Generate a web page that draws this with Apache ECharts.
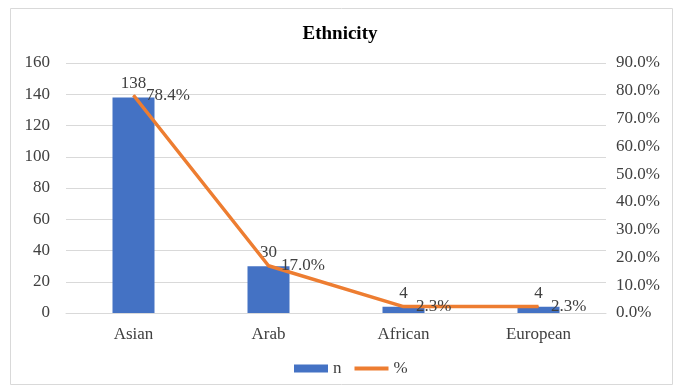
<!DOCTYPE html>
<html>
<head>
<meta charset="utf-8">
<script src="https://cdn.jsdelivr.net/npm/echarts@6/dist/echarts.min.js"></script>
<style>
  html, body { margin: 0; padding: 0; background: #fff; }
  #chart { width: 680px; height: 388px; }
</style>
</head>
<body>
<div id="chart"></div>
<script>
// data
var categories = ["Asian", "Arab", "African", "European"];
var counts = [138, 30, 4, 4];
var percents = [78.4, 17.0, 2.3, 2.3];

var font = "'Liberation Serif', 'Times New Roman', serif";
var textColor = "#404040";

var myChart = echarts.init(document.getElementById("chart"));
var option = {
  textStyle: { fontFamily: font },
  title: {
    text: "Ethnicity",
    left: "center",
    top: 20,
    textStyle: { fontFamily: font, fontSize: 19, fontWeight: "bold", color: "#000" }
  },
  graphic: [
    {
      type: "rect",
      shape: { x: 10.5, y: 8.5, width: 662, height: 376 },
      style: { fill: "none", stroke: "#d9d9d9", lineWidth: 1 },
      silent: true
    }
  ],
  legend: {
    bottom: 6,
    left: 289,
    itemWidth: 34,
    itemHeight: 8,
    itemGap: 11,
    data: [
      { name: "n", icon: "rect" },
      { name: "%", itemStyle: { opacity: 0 }, lineStyle: { width: 4 } }
    ],
    textStyle: { fontFamily: font, fontSize: 17, color: textColor }
  },
  grid: { left: 66, right: 74, top: 63, bottom: 75 },
  xAxis: {
    type: "category",
    data: categories,
    axisTick: { show: false },
    axisLine: { lineStyle: { color: "#d9d9d9" } },
    axisLabel: { fontFamily: font, fontSize: 17, color: textColor, margin: 13 }
  },
  yAxis: [
    {
      type: "value",
      min: 0,
      max: 160,
      interval: 20,
      axisLine: { show: false },
      axisTick: { show: false },
      splitLine: { lineStyle: { color: "#d9d9d9" } },
      axisLabel: { fontFamily: font, fontSize: 17, color: textColor, margin: 16 }
    },
    {
      type: "value",
      min: 0,
      max: 90,
      interval: 10,
      axisLine: { show: false },
      axisTick: { show: false },
      splitLine: { show: false },
      axisLabel: {
        fontFamily: font,
        fontSize: 17,
        color: textColor,
        margin: 10,
        formatter: function (v) { return v.toFixed(1) + "%"; }
      }
    }
  ],
  series: [
    {
      name: "n",
      type: "bar",
      data: counts,
      barWidth: 42,
      itemStyle: { color: "#4472c4" },
      label: {
        show: true,
        position: "top",
        distance: 5,
        fontFamily: font,
        fontSize: 17,
        color: textColor
      }
    },
    {
      name: "%",
      type: "line",
      yAxisIndex: 1,
      data: percents,
      symbol: "circle",
      symbolSize: 1,
      showSymbol: true,
      lineStyle: { color: "#ed7d31", width: 3.5 },
      itemStyle: { color: "#ed7d31" },
      label: {
        show: true,
        position: "right",
        distance: 12,
        fontFamily: font,
        fontSize: 17,
        color: textColor,
        formatter: function (p) { return p.value.toFixed(1) + "%"; }
      }
    }
  ]
};
myChart.setOption(option);
</script>
</body>
</html>
